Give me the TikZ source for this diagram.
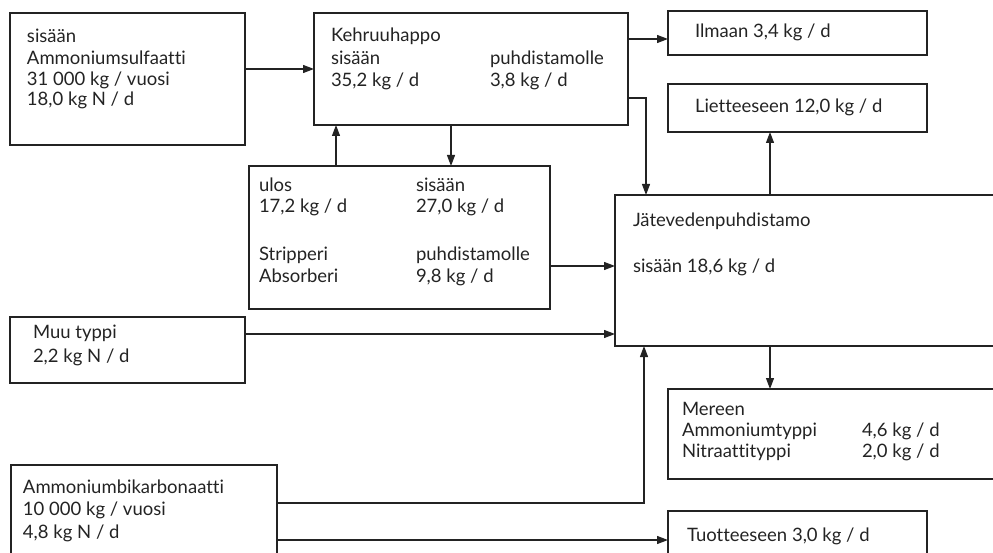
\documentclass[tikz,border=0pt]{standalone}
\usepackage{fontspec}
\setmainfont{Lato}[Ligatures=CommonOff]
\usetikzlibrary{arrows.meta,fit}

\definecolor{ink}{HTML}{232323}

\tikzset{
  box/.style={draw=ink, line width=1.2pt, inner sep=0pt, outer sep=0pt, rectangle},
  lbl/.style={anchor=base west, inner sep=0pt, outer sep=0pt, text=ink, font=\fontsize{18.5}{22}\selectfont},
  flow/.style={draw=ink, line width=1.2pt, -{Triangle[length=11pt,width=8pt]}},
}

\begin{document}
\begin{tikzpicture}[x=1pt,y=-1pt]
\useasboundingbox (0,0) rectangle (993,553);
\clip (0,0) rectangle (993,553);

% ---- boxes ----
\node[box, fit={(10,13) (245,145)}]   (sulf) {};
\node[box, fit={(314,13) (628,125)}]  (keh) {};
\node[box, fit={(668,11) (927,55)}]   (ilma) {};
\node[box, fit={(668,84) (927,132)}]  (liet) {};
\node[box, fit={(249,166) (550,309)}] (strip) {};
\node[box, fit={(615,195) (1010,346)}] (jate) {};
\node[box, fit={(10,317) (245,383)}]  (muu) {};
\node[box, fit={(668,389) (1010,479)}] (meri) {};
\node[box, fit={(11,465) (277,580)}]  (bik) {};
\node[box, fit={(668,511) (927,580)}] (tuot) {};

% ---- texts ----
\node[lbl] (s1) at (27,43)  {sisään};
\node[lbl] (s2) at (27,65)  {Ammoniumsulfaatti};
\node[lbl] (s3) at (27,86)  {31 000 kg / vuosi};
\node[lbl] (s4) at (27,106) {18,0 kg N / d};

\node[lbl] (k1) at (331,42) {Kehruuhappo};
\node[lbl] (k2) at (331,65) {sisään};
\node[lbl] (k3) at (331,87) {35,2 kg / d};
\node[lbl] (k4) at (490,65) {puhdistamolle};
\node[lbl] (k5) at (490,87) {3,8 kg / d};

\node[lbl] (i1) at (695,38)  {Ilmaan 3,4 kg / d};
\node[lbl] (l1) at (695,113) {Lietteeseen 12,0 kg / d};

\node[lbl] (t1) at (259,192) {ulos};
\node[lbl] (t2) at (259,213) {17,2 kg / d};
\node[lbl] (t3) at (259,261) {Stripperi};
\node[lbl] (t4) at (259,283) {Absorberi};
\node[lbl] (t5) at (416,192) {sisään};
\node[lbl] (t6) at (416,213) {27,0 kg / d};
\node[lbl] (t7) at (416,261) {puhdistamolle};
\node[lbl] (t8) at (416,283) {9,8 kg / d};

\node[lbl] (j1) at (633,227) {Jätevedenpuhdistamo};
\node[lbl] (j2) at (633,273) {sisään 18,6 kg / d};

\node[lbl] (m1) at (33,338) {Muu typpi};
\node[lbl] (m2) at (33,362) {2,2 kg N / d};

\node[lbl] (r1) at (682,415) {Mereen};
\node[lbl] (r2) at (682,436) {Ammoniumtyppi};
\node[lbl] (r3) at (682,457) {Nitraattityppi};
\node[lbl] (r4) at (862,436) {4,6 kg / d};
\node[lbl] (r5) at (862,457) {2,0 kg / d};

\node[lbl] (b1) at (23,493) {Ammoniumbikarbonaatti};
\node[lbl] (b2) at (23,515) {10 000 kg / vuosi};
\node[lbl] (b3) at (23,538) {4,8 kg N / d};

\node[lbl] (u1) at (687,541) {Tuotteeseen 3,0 kg / d};

% ---- flows ----
\draw[flow] (sulf.east |- 0,69)  -- (keh.west |- 0,69);
\draw[flow] (keh.east |- 0,39)   -- (ilma.west |- 0,39);
\draw[flow] (keh.east |- 0,98)   -| (jate.north -| 646,0);
\draw[flow] (keh.south -| 451,0) -- (strip.north -| 451,0);
\draw[flow] (strip.north -| 336,0) -- (keh.south -| 336,0);
\draw[flow] (strip.east |- 0,266) -- (jate.west |- 0,266);
\draw[flow] (muu.east |- 0,334)  -- (jate.west |- 0,334);
\draw[flow] (jate.north -| 770,0) -- (liet.south -| 770,0);
\draw[flow] (jate.south -| 770,0) -- (meri.north -| 770,0);
\draw[flow] (bik.east |- 0,503)  -| (jate.south -| 644,0);
\draw[flow] (bik.east |- 0,540)  -- (tuot.west |- 0,540);
\end{tikzpicture}
\end{document}
